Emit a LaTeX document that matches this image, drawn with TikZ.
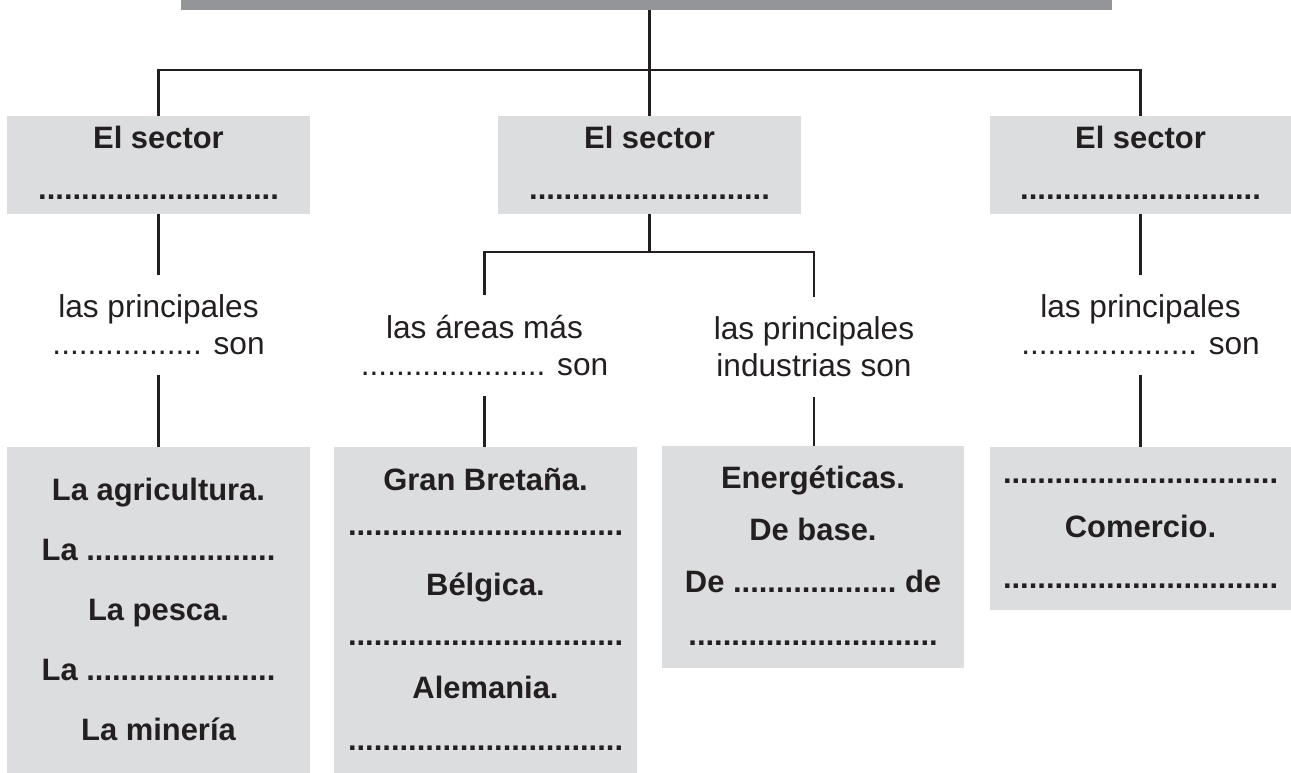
\documentclass[tikz,border=0pt]{standalone}
\usepackage{fontspec}
\setmainfont{Liberation Sans}
\definecolor{ink}{HTML}{231F20}
\definecolor{bargray}{HTML}{939598}
\definecolor{boxgray}{HTML}{DCDDDF}
\newcommand{\pxu}{0.02cm}
% blanks to fill in
\newcommand{\blankL}{................................}
\newcommand{\blankM}{.............................}
\newcommand{\blankS}{......................}
\newcommand{\blankD}{...................}
\tikzset{
  conn/.style={draw=ink, line width=1.4pt},
  gbox/.style={fill=boxgray, inner sep=0pt},
  btxt/.style={font=\bfseries\fontsize{17.6}{20}\selectfont, text=ink, anchor=base, inner sep=0pt},
  qtxt/.style={font=\fontsize{18}{21}\selectfont, text=ink, align=center, inner sep=0pt, minimum height=100*\pxu}
}

\begin{document}
\begin{tikzpicture}[x=\pxu, y=\pxu]
\useasboundingbox (0,0) rectangle (1291,-773);

% title bar
\node[fill=bargray, inner sep=0pt, minimum width=931*\pxu, minimum height=10*\pxu] (bar) at (646.5,-5) {};

% the three sectors
\foreach \n/\xx/\ww in {sec1/158.5/303, sec2/649.5/303, sec3/1140.5/301} {
  \node[gbox, minimum width=\ww*\pxu, minimum height=98*\pxu] (\n) at (\xx,-165) {};
  \node[btxt] (\n-a) at (\xx,-149) {El sector};
  \node[btxt] (\n-b) at (\xx,-200) {............................};
}

% questions
\node[qtxt] (q1) at (158.5,-325) {las principales\\................. son};
\node[qtxt] (q2) at (484.5,-345.5) {las áreas más\\..................... son};
\node[qtxt] (q3) at (814,-347) {las principales\\industrias son};
\node[qtxt] (q4) at (1140.5,-325) {las principales\\.................... son};

% answer boxes
\node[gbox, minimum width=303*\pxu, minimum height=326*\pxu] (prod1) at (158.5,-610) {};
\node[gbox, minimum width=303*\pxu, minimum height=326*\pxu] (prod2) at (485.5,-610) {};
\node[gbox, minimum width=302*\pxu, minimum height=222*\pxu] (prod3) at (813,-557) {};
\node[gbox, minimum width=301*\pxu, minimum height=163*\pxu] (prod4) at (1140.5,-528.5) {};

\foreach \t/\yy [count=\i] in {La agricultura./500, La \blankS/560, La pesca./620, La \blankS/680, La minería/740}
  \node[btxt] (prod1-\i) at (158.5,-\yy) {\t};
\foreach \t/\yy [count=\i] in {Gran Bretaña./490, \blankL/535, Bélgica./595, \blankL/645, Alemania./698, \blankL/750}
  \node[btxt] (prod2-\i) at (485.5,-\yy) {\t};
\foreach \t/\yy [count=\i] in {Energéticas./488, De base./540, De \blankD\ de/592, \blankM/645}
  \node[btxt] (prod3-\i) at (813,-\yy) {\t};
\foreach \t/\yy [count=\i] in {\blankL/483, Comercio./537, \blankL/588}
  \node[btxt] (prod4-\i) at (1140.5,-\yy) {\t};

% connectors
\coordinate (hz) at (649.5,-70);
\coordinate (sp) at (649.5,-252);
\draw[conn] (bar.south -| sec2.north) -- (sec2.north);
\draw[conn] (sec1.north) |- (hz) -| (sec3.north);
\draw[conn] (sec1.south) -- (q1.north);
\draw[conn] (sec2.south) -- (sp);
\draw[conn] (q2.north) |- (sp) -| (q3.north);
\draw[conn] (sec3.south) -- (q4.north);
\draw[conn] (q1.south) -- (prod1.north);
\draw[conn] (q2.south) -- (q2.south |- prod2.north);
\draw[conn] (q3.south) -- (q3.south |- prod3.north);
\draw[conn] (q4.south) -- (prod4.north);
\end{tikzpicture}
\end{document}
